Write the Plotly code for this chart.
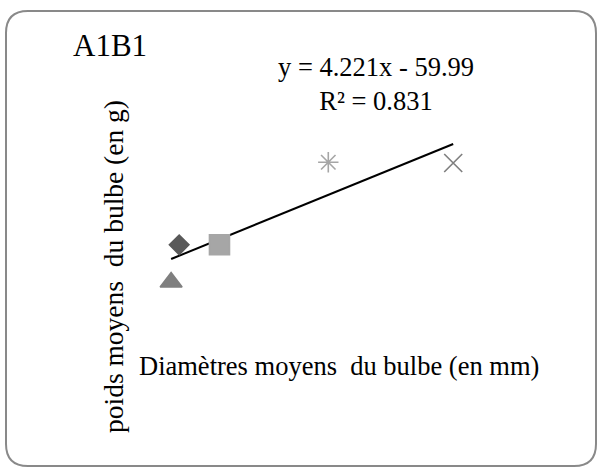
import plotly.graph_objects as go

# ---- data (no axes shown, values estimated) ----
diametres = [35, 36, 41, 54.5, 70]          # mm
poids = [58, 106, 106, 212, 211]             # g
symbols = ["triangle-up", "diamond", "square", "asterisk-open", "x-thin-open"]
colors = ["#7f7f7f", "#595959", "#a6a6a6", "#a6a6a6", "#7f7f7f"]
sizes = [19, 15, 20, 17, 18]

slope = 4.221
intercept = -59.99
r2 = 0.831

W, H = 600, 468
FONT = "Liberation Serif, Times New Roman, serif"

def px(x, y):
    return x / W, 1 - y / H

fig = go.Figure()

# trendline from equation
xmin, xmax = min(diametres), max(diametres)
fig.add_trace(go.Scatter(
    x=[xmin, xmax], y=[slope * xmin + intercept, slope * xmax + intercept],
    mode="lines", line=dict(color="black", width=2), hoverinfo="skip"))

for xv, yv, s, c, sz in zip(diametres, poids, symbols, colors, sizes):
    fig.add_trace(go.Scatter(
        x=[xv], y=[yv], mode="markers",
        marker=dict(symbol=s, color=c, size=sz, line=dict(color=c, width=1.6))))

# rounded border
x0, y0, x1, y1, rr = 6, 11, 596, 466, 22
def P(x, y):
    a, b = px(x, y)
    return f"{a:.5f},{b:.5f}"
path = (f"M {P(x0+rr, y0)} L {P(x1-rr, y0)} Q {P(x1, y0)} {P(x1, y0+rr)} "
        f"L {P(x1, y1-rr)} Q {P(x1, y1)} {P(x1-rr, y1)} "
        f"L {P(x0+rr, y1)} Q {P(x0, y1)} {P(x0, y1-rr)} "
        f"L {P(x0, y0+rr)} Q {P(x0, y0)} {P(x0+rr, y0)} Z")
fig.add_shape(type="path", path=path, xref="paper", yref="paper",
              line=dict(color="#898989", width=2), fillcolor="rgba(0,0,0,0)")

def ann(text, x, y, size, xanchor="center", angle=0):
    a, b = px(x, y)
    fig.add_annotation(text=text, x=a, y=b, xref="paper", yref="paper",
                       xanchor=xanchor, yanchor="middle", showarrow=False,
                       textangle=angle,
                       font=dict(family=FONT, size=size, color="black"))

ann("A1B1", 71, 46, 31, xanchor="left")
ann(f"y = {slope}x - {abs(intercept)}<br>R² = {r2}", 376, 84, 26.5)
ann("poids moyens  du bulbe (en g)", 113, 267, 27.5, angle=-90)
ann("Diamètres moyens  du bulbe (en mm)", 137, 366, 26.5, xanchor="left")

# axis scale so that data maps to pixel positions
ax0 = 13.77
ax1 = 88.21
ay0 = -180.7
ay1 = 420.4
fig.update_xaxes(range=[ax0, ax1], visible=False)
fig.update_yaxes(range=[ay0, ay1], visible=False)
fig.update_layout(width=W, height=H, margin=dict(l=0, r=0, t=0, b=0),
                  showlegend=False, plot_bgcolor="white", paper_bgcolor="white")

fig.write_html("out.html", config={"displayModeBar": False},
               post_script="document.body.style.margin='0';document.body.style.padding='0';")
